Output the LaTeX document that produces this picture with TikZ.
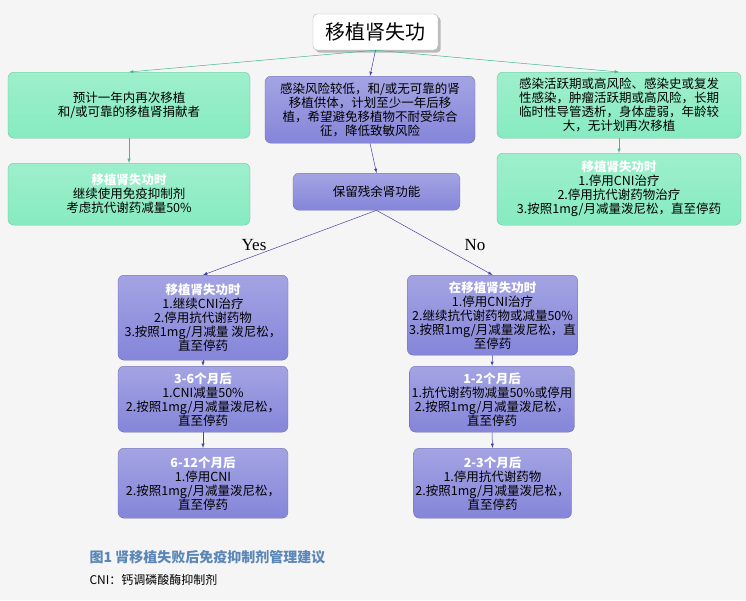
\documentclass[tikz,border=0pt]{standalone}
\usepackage{fontspec}
\setmainfont{Noto Sans CJK SC}
\newfontfamily\serifyn{Liberation Serif}
\usetikzlibrary{shadows}
\definecolor{bg}{HTML}{F5F5F5}
\definecolor{grn}{HTML}{86EBC0}
\definecolor{grnline}{HTML}{40B890}
\definecolor{ppl}{HTML}{8585DA}
\definecolor{pplline}{HTML}{4545A8}
\definecolor{capblue}{HTML}{5A86B8}
\tikzset{
  gbox/.style={draw=grn!80!black, line width=0.3pt, rounded corners=6pt, top color=grn!80, bottom color=grn, align=center, font=\fontsize{12.5}{14}\selectfont, inner sep=2pt},
  pbox/.style={draw=ppl!80!black, line width=0.3pt, rounded corners=6pt, top color=ppl!75, bottom color=ppl, align=center, font=\fontsize{12.5}{14}\selectfont, inner sep=2pt},
  garrow/.style={grnline, -latex, line width=0.5pt},
  parrow/.style={pplline, -latex, line width=0.5pt},
}
\newcommand{\hd}[1]{{\color{white}\bfseries #1}}
\begin{document}
\begin{tikzpicture}[x=1pt, y=-1pt]
	%背景
	\fill[bg] (0,0) rectangle (746,600);
	\useasboundingbox (0,0) rectangle (746,600);
	%标题
	\node[draw=gray!60, rounded corners=4pt, fill=white, drop shadow, minimum width=125pt, minimum height=36pt, font=\fontsize{20}{22}\selectfont] (title) at (375.5,32) {移植肾失功};
	%第一层
	\node[gbox, minimum width=242pt, minimum height=66pt, text width=236pt, anchor=north] (L1) at (129,72) {预计一年内再次移植\\和/或可靠的移植肾捐献者\\[1.6em]};
	\node[pbox, minimum width=210pt, minimum height=67pt, text width=204pt, anchor=north] (M1) at (370,76) {感染风险较低，和/或无可靠的肾\\移植供体，计划至少一年后移\\植，希望避免移植物不耐受综合\\征，降低致敏风险};
	\node[gbox, minimum width=244pt, minimum height=66pt, text width=240pt, anchor=north] (R1) at (619,72) {感染活跃期或高风险、感染史或复发\\性感染，肿瘤活跃期或高风险，长期\\临时性导管透析，身体虚弱，年龄较\\大，无计划再次移植};
	%第二层
	\node[gbox, minimum width=242pt, minimum height=62pt, anchor=north] (L2) at (129,163) {\hd{移植肾失功时}\\继续使用免疫抑制剂\\考虑抗代谢药减量50\%};
	\node[pbox, minimum width=167pt, minimum height=37pt, anchor=north] (M2) at (376.5,173) {保留残余肾功能};
	\node[gbox, minimum width=244pt, minimum height=72pt, anchor=north] (R2) at (619,153) {\hd{移植肾失功时}\\1.停用CNI治疗\\2.停用抗代谢药物治疗\\3.按照1mg/月减量泼尼松，直至停药};
	%Yes分支
	\node[pbox, minimum width=170pt, minimum height=85pt, anchor=north] (Y1) at (203,275) {\hd{移植肾失功时}\\1.继续CNI治疗\\2.停用抗代谢药物\\3.按照1mg/月减量 泼尼松，\\直至停药};
	\node[pbox, minimum width=170pt, minimum height=66pt, anchor=north] (Y2) at (203,366) {\hd{3-6个月后}\\1.CNI减量50\%\\2.按照1mg/月减量泼尼松，\\直至停药};
	\node[pbox, minimum width=170pt, minimum height=70pt, anchor=north] (Y3) at (203,448) {\hd{6-12个月后}\\1.停用CNI\\2.按照1mg/月减量泼尼松，\\直至停药};
	%No分支
	\node[pbox, minimum width=169pt, minimum height=80pt, anchor=north] (N1) at (492.5,275) {\hd{在移植肾失功时}\\1.停用CNI治疗\\2.继续抗代谢药物或减量50\%\\3.按照1mg/月减量泼尼松，直\\至停药};
	\node[pbox, minimum width=160pt, minimum height=66pt, anchor=north] (N2) at (492,366) {\hd{1-2个月后}\\1.抗代谢药物减量50\%或停用\\2.按照1mg/月减量泼尼松，\\直至停药};
	\node[pbox, minimum width=151pt, minimum height=70pt, anchor=north] (N3) at (492.5,448) {\hd{2-3个月后}\\1.停用抗代谢药物\\2.按照1mg/月减量泼尼松，\\直至停药};
	%连线
	\draw[garrow] (title.south) -- (L1.north);
	\draw[parrow] (title.south) -- (M1.north);
	\draw[garrow] (title.south) -- (R1.north);
	\draw[garrow] (L1.south) -- (L2.north);
	\draw[parrow] (M1.south) -- (M2.north);
	\draw[garrow] (R1.south) -- (R2.north);
	\draw[parrow] (M2.south) -- (Y1.north);
	\draw[parrow] (M2.south) -- (N1.north);
	\draw[parrow] (Y1.south) -- (Y2.north);
	\draw[parrow] (Y2.south) -- (Y3.north);
	\draw[parrow] (N1.south) -- (N2.north);
	\draw[parrow] (N2.south) -- (N3.north);
	%标签
	\node[font=\fontsize{17}{19}\selectfont\serifyn] (yes) at (254,245) {Yes};
	\node[font=\fontsize{17}{19}\selectfont\serifyn] (no) at (475,245) {No};
	%图注
	\node[anchor=west, text=capblue, font=\fontsize{14}{16}\selectfont\bfseries] (cap) at (86,557) {图1 肾移植失败后免疫抑制剂管理建议};
	\node[anchor=west, font=\fontsize{12}{14}\selectfont] (note) at (86,580) {CNI：钙调磷酸酶抑制剂};
\end{tikzpicture}
\end{document}
